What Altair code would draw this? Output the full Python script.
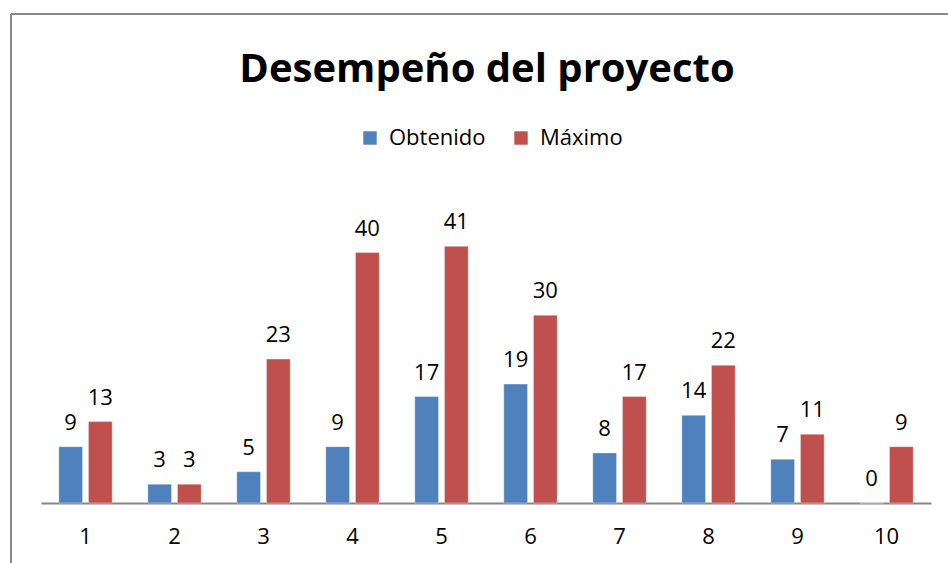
import altair as alt
import pandas as pd

title_text = "Desempeño del proyecto"
categories = ["1", "2", "3", "4", "5", "6", "7", "8", "9", "10"]
obtenido = [9, 3, 5, 9, 17, 19, 8, 14, 7, 0]
maximo = [13, 3, 23, 40, 41, 30, 17, 22, 11, 9]
series = ["Obtenido", "Máximo"]
colors = ["#4F81BD", "#C0504D"]

rows = []
for c, o, m in zip(categories, obtenido, maximo):
    rows.append({"cat": c, "serie": "Obtenido", "valor": o})
    rows.append({"cat": c, "serie": "Máximo", "valor": m})
df = pd.DataFrame(rows)

FONT = "Open Sans"
W, H = 890, 313

x_enc = alt.X("cat:N", sort=categories,
              scale=alt.Scale(paddingInner=0.4, paddingOuter=0.2),
              axis=alt.Axis(title=None, labelAngle=0, ticks=False, domainColor="#868686",
                            domainWidth=2, labelFontSize=22, labelFont=FONT,
                            labelColor="#000000", labelPadding=23, grid=False))
xoff = alt.XOffset("serie:N", sort=series, scale=alt.Scale(paddingInner=0.2, paddingOuter=0))
y_enc = alt.Y("valor:Q", scale=alt.Scale(domain=[0, 50]), axis=None)

bars = alt.Chart(df).mark_bar(stroke="#ffffff", strokeOpacity=0.35, strokeWidth=1).encode(
    x=x_enc, xOffset=xoff, y=y_enc,
    color=alt.Color("serie:N", sort=series,
                    scale=alt.Scale(domain=series, range=colors),
                    legend=alt.Legend(title=None, orient="none", direction="horizontal",
                                      legendX=318, legendY=-63, symbolType="square",
                                      symbolSize=180, symbolStrokeWidth=0,
                                      labelFontSize=22, labelFont=FONT, labelColor="#000000",
                                      labelOffset=8, columnPadding=24)),
)

labels = alt.Chart(df).mark_text(baseline="alphabetic", dy=-17, fontSize=22, font=FONT,
                                 color="#000000").encode(
    x=x_enc, xOffset=xoff, y=y_enc, text="valor:Q")

title_df = pd.DataFrame({"t": [title_text]})
title = alt.Chart(title_df).mark_text(fontSize=40, font=FONT, fontWeight="bold",
                                      baseline="alphabetic", align="center",
                                      color="#000000").encode(
    x=alt.value(446), y=alt.value(-108), text="t:N")

frame_top = alt.Chart(df).mark_rule(color="#888888", strokeWidth=2).encode(
    x=alt.value(-30), x2=alt.value(920), y=alt.value(-176))
frame_left = alt.Chart(df).mark_rule(color="#888888", strokeWidth=2).encode(
    x=alt.value(-30), y=alt.value(-176), y2=alt.value(380))

chart = alt.layer(frame_top, frame_left, title, bars, labels).properties(
    width=W, height=H,
    background="#ffffff",
    autosize=alt.AutoSizeParams(type="none"),
    padding={"left": 41, "top": 190, "right": 17, "bottom": 60},
).configure_view(strokeWidth=0)

chart.save("out.html", embed_options={"renderer": "svg", "actions": False})
